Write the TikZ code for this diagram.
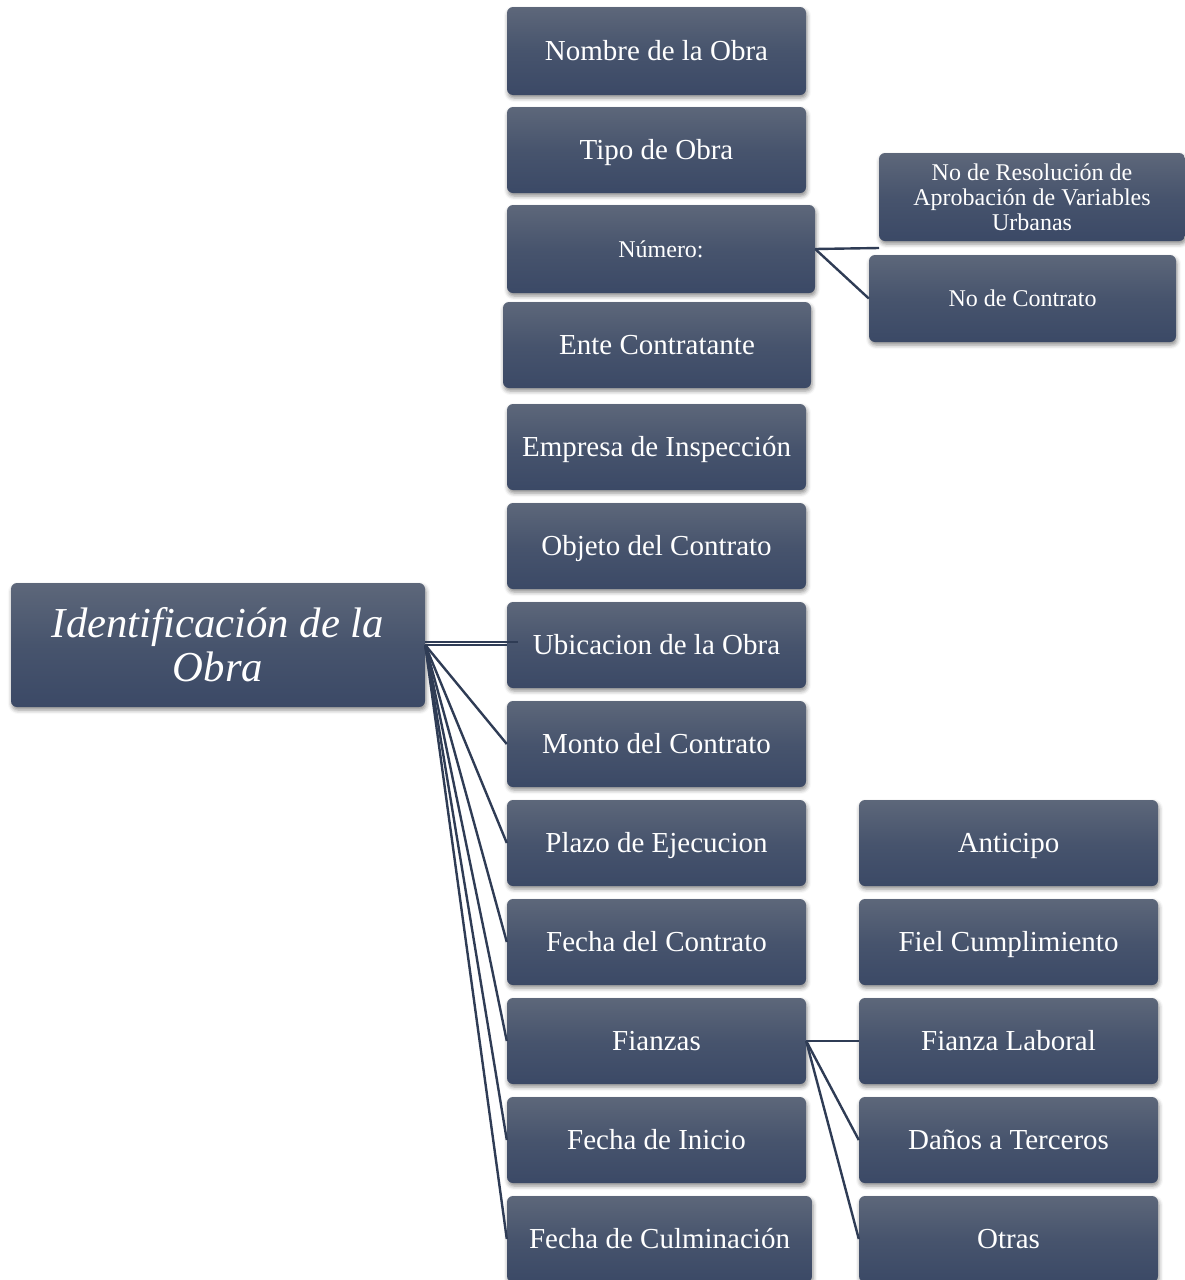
\documentclass[tikz,border=0pt]{standalone}
\usepackage{fontspec}
\setmainfont{Liberation Serif}
\usetikzlibrary{shadows.blur}
\definecolor{btop}{HTML}{5D677A}
\definecolor{bmid}{HTML}{47546D}
\definecolor{bbot}{HTML}{3B4966}
\definecolor{lncol}{HTML}{2F3C55}
\tikzset{
  boxbase/.style={rectangle, rounded corners=6pt, inner sep=2pt, align=center,
    top color=btop, bottom color=bbot, middle color=bmid, text=white,
    blur shadow={shadow xshift=1pt, shadow yshift=-3pt, shadow blur radius=4pt, shadow opacity=45}},
  cbox/.style={boxbase, font=\fontsize{29}{31}\selectfont, text height=24pt, text depth=6pt},
  sbox/.style={boxbase, font=\fontsize{24}{25}\selectfont},
  rootbox/.style={boxbase, font=\fontsize{42.7}{44}\selectfont\itshape},
  conn/.style={draw=lncol, line width=2.4pt}
}
\begin{document}
\begin{tikzpicture}[x=1pt,y=-1pt]
\useasboundingbox (0,0) rectangle (1185,1280);
% root
\node[rootbox, minimum width=414pt, minimum height=124pt] (root) at (218,645) {Identificación de la\\Obra};
% column
\node[cbox, minimum width=299pt, minimum height=88pt] (nombre) at (656.5,51) {Nombre de la Obra};
\node[cbox, minimum width=299pt, minimum height=86pt] (tipo) at (656.5,150) {Tipo de Obra};
\node[sbox, minimum width=308pt, minimum height=88pt] (numero) at (661,249) {Número:};
\node[cbox, minimum width=308pt, minimum height=86pt] (ente) at (657,345) {Ente Contratante};
\node[cbox, minimum width=299pt, minimum height=86pt] (empresa) at (656.5,447) {Empresa de Inspección};
\node[cbox, minimum width=299pt, minimum height=86pt] (objeto) at (656.5,546) {Objeto del Contrato};
\node[cbox, minimum width=299pt, minimum height=86pt] (ubic) at (656.5,645) {Ubicacion de la Obra};
\node[cbox, minimum width=299pt, minimum height=86pt] (monto) at (656.5,744) {Monto del Contrato};
\node[cbox, minimum width=299pt, minimum height=86pt] (plazo) at (656.5,843) {Plazo de Ejecucion};
\node[cbox, minimum width=299pt, minimum height=86pt] (fcontrato) at (656.5,942) {Fecha del Contrato};
\node[cbox, minimum width=299pt, minimum height=86pt] (fianzas) at (656.5,1041) {Fianzas};
\node[cbox, minimum width=299pt, minimum height=86pt] (finicio) at (656.5,1140) {Fecha de Inicio};
\node[cbox, minimum width=305pt, minimum height=86pt] (fculm) at (659.5,1239) {Fecha de Culminación};
% right column top
\node[sbox, minimum width=306pt, minimum height=88pt] (resol) at (1032,197) {No de Resolución de\\Aprobación de Variables\\Urbanas};
\node[sbox, minimum width=307pt, minimum height=87pt] (ncontrato) at (1022.5,298.5) {No de Contrato};
% right column bottom
\node[cbox, minimum width=299pt, minimum height=86pt] (anticipo) at (1008.5,843) {Anticipo};
\node[cbox, minimum width=299pt, minimum height=86pt] (fiel) at (1008.5,942) {Fiel Cumplimiento};
\node[cbox, minimum width=299pt, minimum height=86pt] (laboral) at (1008.5,1041) {Fianza Laboral};
\node[cbox, minimum width=299pt, minimum height=86pt] (danos) at (1008.5,1140) {Daños a Terceros};
\node[cbox, minimum width=299pt, minimum height=86pt] (otras) at (1008.5,1239) {Otras};
% connectors
\coordinate (resolend) at (879,248);
\draw[conn] ([yshift=3pt]root.east) -- ([xshift=11pt,yshift=3pt]ubic.west);
\draw[conn] (root.east) -- (ubic.west);
\draw[conn] (root.east) -- (monto.west);
\draw[conn] (root.east) -- (plazo.west);
\draw[conn] (root.east) -- (fcontrato.west);
\draw[conn] (root.east) -- (fianzas.west);
\draw[conn] (root.east) -- (finicio.west);
\draw[conn] (root.east) -- (fculm.west);
\draw[conn] (numero.east) -- (resolend);
\draw[conn] (numero.east) -- (ncontrato.west);
\draw[conn] (fianzas.east) -- (laboral.west);
\draw[conn] (fianzas.east) -- (danos.west);
\draw[conn] (fianzas.east) -- (otras.west);
\end{tikzpicture}
\end{document}
